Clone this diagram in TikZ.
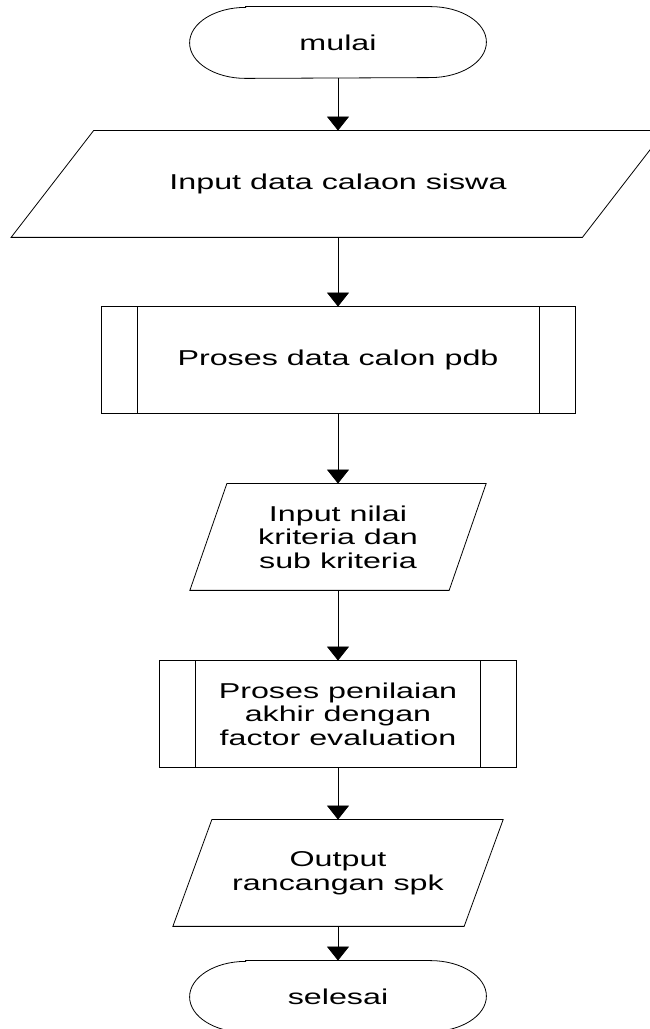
\documentclass[tikz,border=0pt]{standalone}
\usepackage{fontspec}
\setmainfont{Liberation Sans}[FakeStretch=1.5]
\usetikzlibrary{arrows.meta}

% outlines drawn round invisible, named nodes
\newcommand{\stadium}[1]{\draw ([xshift=56pt]#1.north west) -- ([xshift=-56pt]#1.north east)
  arc[start angle=90,end angle=-90,x radius=56pt,y radius=35.5pt] -- ([xshift=56pt]#1.south west)
  arc[start angle=270,end angle=90,x radius=56pt,y radius=35.5pt] -- cycle;}
\newcommand{\slanted}[2]{\draw ([xshift=#2]#1.north west) -- ([xshift=#2]#1.north east)
  -- ([xshift=-#2]#1.south east) -- ([xshift=-#2]#1.south west) -- cycle;}
\newcommand{\subproc}[1]{\draw (#1.north west) rectangle (#1.south east)
  ([xshift=36pt]#1.north west) -- ([xshift=36pt]#1.south west)
  ([xshift=-36pt]#1.north east) -- ([xshift=-36pt]#1.south east);}

\tikzset{
  txt/.style={inner sep=0pt, align=center, font=\fontsize{21.5}{23.5}\selectfont},
  term/.style={txt, minimum width=296pt, minimum height=71pt},
  box/.style={txt, minimum width=#1, minimum height=106pt},
  flow/.style={-{Triangle[width=22pt,length=14pt]}},
}

\begin{document}
\begin{tikzpicture}[x=1pt,y=1pt,line width=0.8pt]
\useasboundingbox (0,0) rectangle (650,1029);
\clip (0,0) rectangle (650,1029);

\node[term] (mulai) at (338,986.5) {mulai};
\node[box=570.5pt] (in1) at (338,845) {Input data calaon siswa};
\node[box=473pt] (proc1) at (338,669) {Proses data calon pdb};
\node[box=258.5pt] (in2) at (338,492) {Input nilai\\kriteria dan\\sub kriteria};
\node[box=356pt] (proc2) at (338,315) {Proses penilaian\\akhir dengan\\factor evaluation};
\node[box=290.5pt] (out) at (338,156) {Output\\rancangan spk};
\node[term] (selesai) at (338,32.5) {selesai};

\stadium{mulai}
\slanted{in1}{41.25pt}
\subproc{proc1}
\slanted{in2}{18.5pt}
\subproc{proc2}
\slanted{out}{19.5pt}
\stadium{selesai}

\foreach \a/\b in {mulai/in1, in1/proc1, proc1/in2, in2/proc2, proc2/out, out/selesai}{
    \draw[flow] (\a.south) -- (\b.north);
}

\end{tikzpicture}
\end{document}
